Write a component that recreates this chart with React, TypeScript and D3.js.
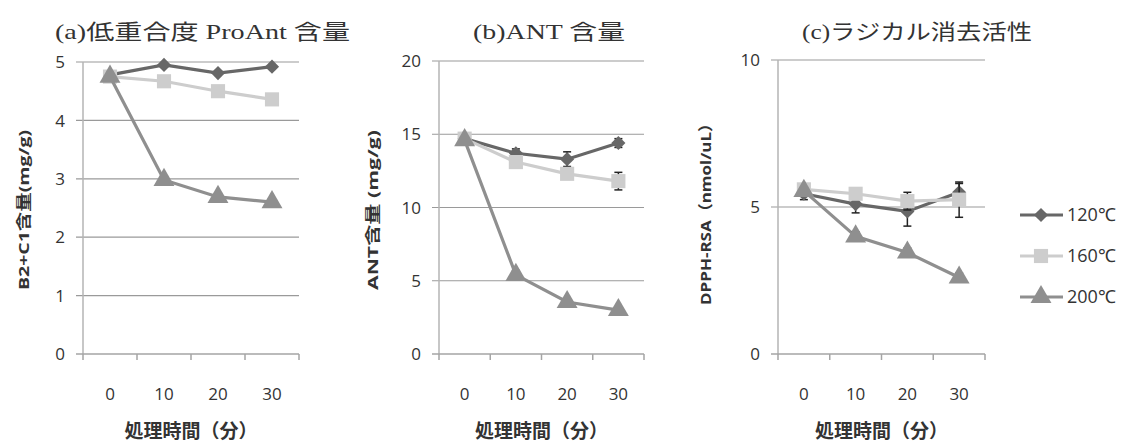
import React from 'react';
import * as d3 from 'd3';

const width = 1127;
const height = 445;

const times = ['0', '10', '20', '30'];
const seriesNames = ['120℃', '160℃', '200℃'];

// (a) 低重合度 ProAnt 含量
const proAnt120 = [4.78, 4.95, 4.81, 4.92];
const proAnt160 = [4.75, 4.67, 4.5, 4.36];
const proAnt200 = [4.75, 2.98, 2.69, 2.6];
const proAntErr120 = [0.03, 0.03, 0.03, 0.03];
const proAntErr160 = [0.03, 0.03, 0.03, 0.03];
const proAntErr200 = [0.03, 0.03, 0.03, 0.03];

// (b) ANT 含量
const ant120 = [14.7, 13.7, 13.3, 14.4];
const ant160 = [14.7, 13.1, 12.3, 11.8];
const ant200 = [14.6, 5.4, 3.55, 3.0];
const antErr120 = [0.2, 0.3, 0.5, 0.3];
const antErr160 = [0.2, 0.3, 0.3, 0.6];
const antErr200 = [0.2, 0.3, 0.2, 0.2];

// (c) ラジカル消去活性
const rsa120 = [5.45, 5.1, 4.85, 5.5];
const rsa160 = [5.6, 5.45, 5.2, 5.25];
const rsa200 = [5.55, 4.0, 3.45, 2.6];
const rsaErr120 = [0.2, 0.3, 0.5, 0.3];
const rsaErr160 = [0.15, 0.2, 0.3, 0.6];
const rsaErr200 = [0.1, 0.15, 0.15, 0.15];

const ticksA = [0, 1, 2, 3, 4, 5];
const ticksB = [0, 5, 10, 15, 20];
const ticksC = [0, 5, 10];

const colors = ['#676767', '#cdcdcd', '#8f8f8f'];
const shapes = [d3.symbolSquare, d3.symbolSquare, d3.symbolTriangle];

const panels = [
  {
    title: '(a)低重合度 ProAnt 含量', titleX: 55, titleW: 295,
    yLabel: 'B2+C1含量(mg/g)', yLabelX: 24, yLabelW: 160,
    left: 83, right: 299, top: 62, bottom: 354, yMax: 5, ticks: ticksA,
    values: [proAnt120, proAnt160, proAnt200],
    errs: [proAntErr120, proAntErr160, proAntErr200],
  },
  {
    title: '(b)ANT 含量', titleX: 473, titleW: 152,
    yLabel: 'ANT含量 (mg/g)', yLabelX: 373, yLabelW: 160,
    left: 439, right: 644, top: 61, bottom: 354, yMax: 20, ticks: ticksB,
    values: [ant120, ant160, ant200],
    errs: [antErr120, antErr160, antErr200],
  },
  {
    title: '(c)ラジカル消去活性', titleX: 802, titleW: 230,
    yLabel: 'DPPH-RSA（nmol/uL）', yLabelX: 706, yLabelW: 190,
    left: 778, right: 985, top: 60, bottom: 354, yMax: 10, ticks: ticksC,
    values: [rsa120, rsa160, rsa200],
    errs: [rsaErr120, rsaErr160, rsaErr200],
  },
];

const numFont = '"Open Sans", "Noto Sans", sans-serif';
const titleFont = '"Liberation Serif", "Noto Sans CJK JP", serif';
const cjkFont = '"Open Sans", "Noto Sans CJK JP", sans-serif';

const Marker = ({ i, x, y }) => {
  const size = i === 0 ? 100 : i === 1 ? 200 : 190;
  const path = d3.symbol(shapes[i], size)();
  const rot = i === 0 ? 45 : 0;
  return (
    <path
      d={path}
      transform={`translate(${x},${y}) rotate(${rot})`}
      fill={colors[i]}
    />
  );
};

const Panel = ({ p }) => {
  const x = d3.scaleBand().domain(times).range([p.left, p.right]);
  const y = d3.scaleLinear().domain([0, p.yMax]).range([p.bottom, p.top]);
  const cx = (t) => x(t) + x.bandwidth() / 2;
  const line = d3.line().x((d) => cx(d[0])).y((d) => y(d[1]));
  const bounds = times.map((t) => x(t)).concat([p.right]);
  const midX = (p.left + p.right) / 2;

  return (
    <g>
      <text
        x={p.titleX} y={39}
        textLength={p.titleW} lengthAdjust="spacingAndGlyphs"
        fontFamily={titleFont} fontSize={21} fill="#333"
      >{p.title}</text>

      {/* grid */}
      {p.ticks.map((t) => (
        <g key={t}>
          {t > 0 && (
            <line x1={p.left - 7} x2={p.right} y1={y(t)} y2={y(t)}
              stroke="#9a9a9a" strokeWidth={1.2} />
          )}
          <text x={p.left - 18} y={y(t)} dy="0.36em" textAnchor="end"
            fontFamily={numFont} fontSize={17} fill="#333">{t}</text>
        </g>
      ))}

      {/* axes */}
      <line x1={p.left} x2={p.left} y1={p.top} y2={p.bottom} stroke="#b5b5b5" strokeWidth={1.5} />
      <line x1={p.left - 7} x2={p.right} y1={p.bottom} y2={p.bottom} stroke="#a5a5a5" strokeWidth={1.5} />
      {bounds.map((b, i) => (
        <line key={i} x1={b} x2={b} y1={p.bottom} y2={p.bottom + 6} stroke="#a5a5a5" strokeWidth={1.5} />
      ))}
      {times.map((t) => (
        <text key={t} x={cx(t)} y={400} textAnchor="middle"
          fontFamily={numFont} fontSize={17} fill="#333">{t}</text>
      ))}

      <text x={midX} y={438} textAnchor="middle" fontFamily={cjkFont}
        fontWeight="bold" fontSize={19} fill="#333">処理時間（分）</text>

      <text
        transform={`translate(${p.yLabelX},210) rotate(-90)`}
        textAnchor="middle" dy="0.35em"
        textLength={p.yLabelW} lengthAdjust="spacingAndGlyphs"
        fontFamily={cjkFont} fontWeight="bold" fontSize={15} fill="#333"
      >{p.yLabel}</text>

      {/* series */}
      {p.values.map((vals, i) => {
        const pts = times.map((t, j) => [t, vals[j]]);
        return (
          <g key={i}>
            <path d={line(pts)} fill="none" stroke={colors[i]} strokeWidth={3.2} />
            {pts.map((d, j) => {
              const e = p.errs[i][j];
              const xx = cx(d[0]);
              return (
                <g key={j} stroke="#222" strokeWidth={1.5}>
                  <line x1={xx} x2={xx} y1={y(d[1] - e)} y2={y(d[1] + e)} />
                  <line x1={xx - 4} x2={xx + 4} y1={y(d[1] - e)} y2={y(d[1] - e)} />
                  <line x1={xx - 4} x2={xx + 4} y1={y(d[1] + e)} y2={y(d[1] + e)} />
                </g>
              );
            })}
            {pts.map((d, j) => (
              <Marker key={j} i={i} x={cx(d[0])} y={y(d[1])} />
            ))}
          </g>
        );
      })}
    </g>
  );
};

const legendY = d3.scalePoint().domain(seriesNames).range([215, 297]);

export default function App() {
  return (
    <svg width={width} height={height}
      style={{ position: 'absolute', left: 0, top: 0, background: '#fff' }}>
      <rect width={width} height={height} fill="#fff" />
      {panels.map((p, i) => <Panel key={i} p={p} />)}
      {seriesNames.map((s, i) => (
        <g key={s}>
          <line x1={1020} x2={1063} y1={legendY(s)} y2={legendY(s)} stroke={colors[i]} strokeWidth={3.2} />
          <Marker i={i} x={1041} y={legendY(s)} />
          <text x={1067} y={legendY(s)} dy="0.36em" fontFamily={numFont}
            fontSize={18} fill="#333">{s}</text>
        </g>
      ))}
    </svg>
  );
}
